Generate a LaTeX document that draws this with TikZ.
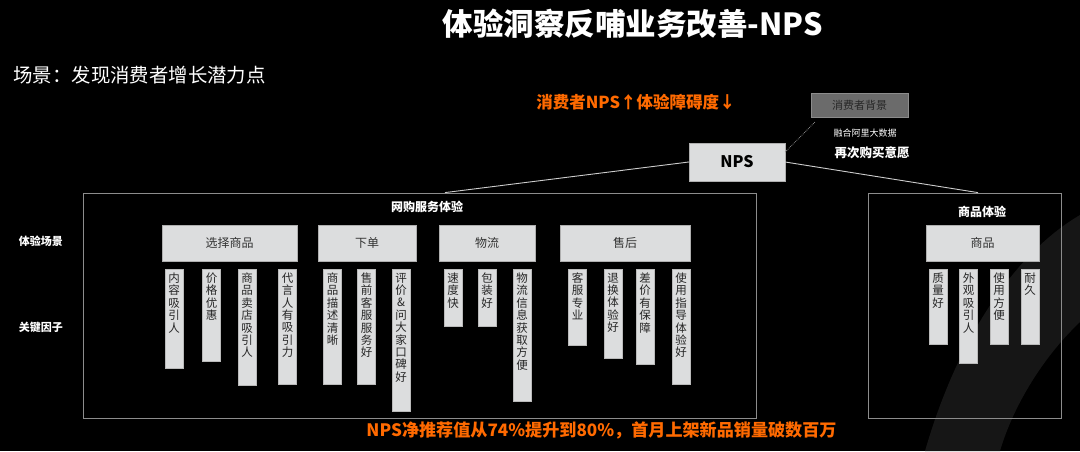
\documentclass[tikz,border=0pt]{standalone}
\usepackage{fontspec}
\setmainfont{Noto Sans CJK SC}
\usetikzlibrary{positioning}
\definecolor{npsorange}{HTML}{FF6A00}
\definecolor{boxgray}{HTML}{DCDDDE}
\definecolor{framegray}{HTML}{8C8C8C}
\definecolor{bggray}{HTML}{6B6B6B}
\definecolor{swoosh}{HTML}{161616}
% one column of stacked characters, #1 = box height
\newcommand{\vcol}[2]{\vbox to #1pt{\hsize=18pt\parindent=0pt\kern3.5pt\centering\fontsize{11.5}{12.4}\selectfont #2\par\vfil}}

\begin{document}
\begin{tikzpicture}[x=1pt,y=-1pt,
frame/.style={draw=framegray,line width=0.8pt,inner sep=0pt},
cat/.style={fill=boxgray,draw=framegray!70,inner sep=0pt,minimum height=36pt,font=\fontsize{12}{14}\selectfont,text=black!80},
fac/.style={fill=boxgray,draw=framegray!60,line width=0.6pt,inner sep=0pt,anchor=north,text=black!85},
head/.style={text=white,font=\bfseries\fontsize{12}{14}\selectfont},
lab/.style={text=white,font=\bfseries\fontsize{11}{13}\selectfont},
link/.style={draw=white!80!black,line width=0.9pt}]
\fill[black] (0,0) rectangle (1080,451);
\useasboundingbox (0,0) rectangle (1080,451);
% background swoosh
\fill[swoosh] (925,451) .. controls (960,330) and (1020,250) .. (1080,215)
  -- (1080,322) .. controls (1040,360) and (1012,410) .. (1000,451) -- cycle;
% titles
\node[text=white,font=\bfseries\fontsize{30.5}{34}\selectfont] (title) at (633,24) {体验洞察反哺业务改善-NPS};
\node[text=white,anchor=west,font=\fontsize{19.4}{21}\selectfont] (scene) at (10,75) {场景：发现消费者增长潜力点};
\node[text=npsorange,font=\bfseries\fontsize{16.5}{18}\selectfont] (goal) at (636,102) {消费者NPS↑体验障碍度↓};
% NPS and background
\node[fill=boxgray,draw=framegray!70,inner sep=0pt,minimum width=96pt,minimum height=38pt,font=\bfseries\fontsize{16}{18}\selectfont] (nps) at (737,162) {NPS};
\node[fill=bggray,draw=framegray,inner sep=0pt,minimum width=97pt,minimum height=24pt,text=black!85,font=\fontsize{11}{12}\selectfont] (bg) at (859.5,105) {消费者背景};
\node[text=white,font=\fontsize{9}{10}\selectfont] (bigdata) at (865,133) {融合阿里大数据};
\node[text=white,font=\bfseries\fontsize{12.5}{14}\selectfont] (rebuy) at (872,153) {再次购买意愿};
\draw[draw=white!55!black,densely dotted,line width=0.8pt] ([yshift=10pt]nps.east) -- ([xshift=4pt,yshift=-5pt]bg.south west);
% frames
\node[frame,minimum width=673pt,minimum height=225pt] (online) at (419.5,305.5) {};
\node[frame,minimum width=193pt,minimum height=225pt] (goods) at (964.5,305.5) {};
\node[head] (onlinehd) at (427,207) {网购服务体验};
\node[head] (goodshd) at (982,212) {商品体验};
\draw[link] (nps.west) -- ([xshift=25.5pt]online.north);
\draw[link] (nps.east) -- ([xshift=13.5pt]goods.north);
% row labels
\node[lab] (scenelab) at (41,241) {体验场景};
\node[lab] (factorlab) at (41,327) {关键因子};
% scenes
\node[cat,minimum width=135pt] (c1) at (229.5,243) {选择商品};
\node[cat,minimum width=98pt] (c2) at (367,243) {下单};
\node[cat,minimum width=96pt] (c3) at (487,243) {物流};
\node[cat,minimum width=130pt] (c4) at (625,243) {售后};
\node[cat,minimum width=113pt] (c5) at (982.5,243) {商品};
% key factors
\node[fac] (f1) at (174,269) {\vcol{99}{内\\容\\吸\\引\\人}};
\node[fac] (f2) at (211.5,269) {\vcol{92}{价\\格\\优\\惠}};
\node[fac] (f3) at (247,269) {\vcol{116}{商\\品\\卖\\店\\吸\\引\\人}};
\node[fac] (f4) at (287.5,269) {\vcol{115}{代\\言\\人\\有\\吸\\引\\力}};
\node[fac] (f5) at (332.5,269) {\vcol{115}{商\\品\\描\\述\\清\\晰}};
\node[fac] (f6) at (366.5,269) {\vcol{115}{售\\前\\客\\服\\服\\务\\好}};
\node[fac] (f7) at (401,269) {\vcol{142}{评\\价\\\&\\问\\大\\家\\口\\碑\\好}};
\node[fac] (f8) at (453,269) {\vcol{57}{速\\度\\快}};
\node[fac] (f9) at (487,269) {\vcol{57}{包\\装\\好}};
\node[fac] (f10) at (522,269) {\vcol{132}{物\\流\\信\\息\\获\\取\\方\\便}};
\node[fac] (f11) at (577.5,269) {\vcol{76}{客\\服\\专\\业}};
\node[fac] (f12) at (613,269) {\vcol{89}{退\\换\\体\\验\\好}};
\node[fac] (f13) at (645,269) {\vcol{95}{差\\价\\有\\保\\障}};
\node[fac] (f14) at (681,269) {\vcol{115}{使\\用\\指\\导\\体\\验\\好}};
\node[fac] (g1) at (938,269) {\vcol{75}{质\\量\\好}};
\node[fac] (g2) at (968.5,269) {\vcol{94}{外\\观\\吸\\引\\人}};
\node[fac] (g3) at (999,269) {\vcol{75}{使\\用\\方\\便}};
\node[fac] (g4) at (1030,269) {\vcol{75}{耐\\久}};
% result
\node[text=npsorange,font=\bfseries\fontsize{17.1}{19}\selectfont] (result) at (601.5,430) {NPS净推荐值从74\%提升到80\%，首月上架新品销量破数百万};
\end{tikzpicture}
\end{document}
